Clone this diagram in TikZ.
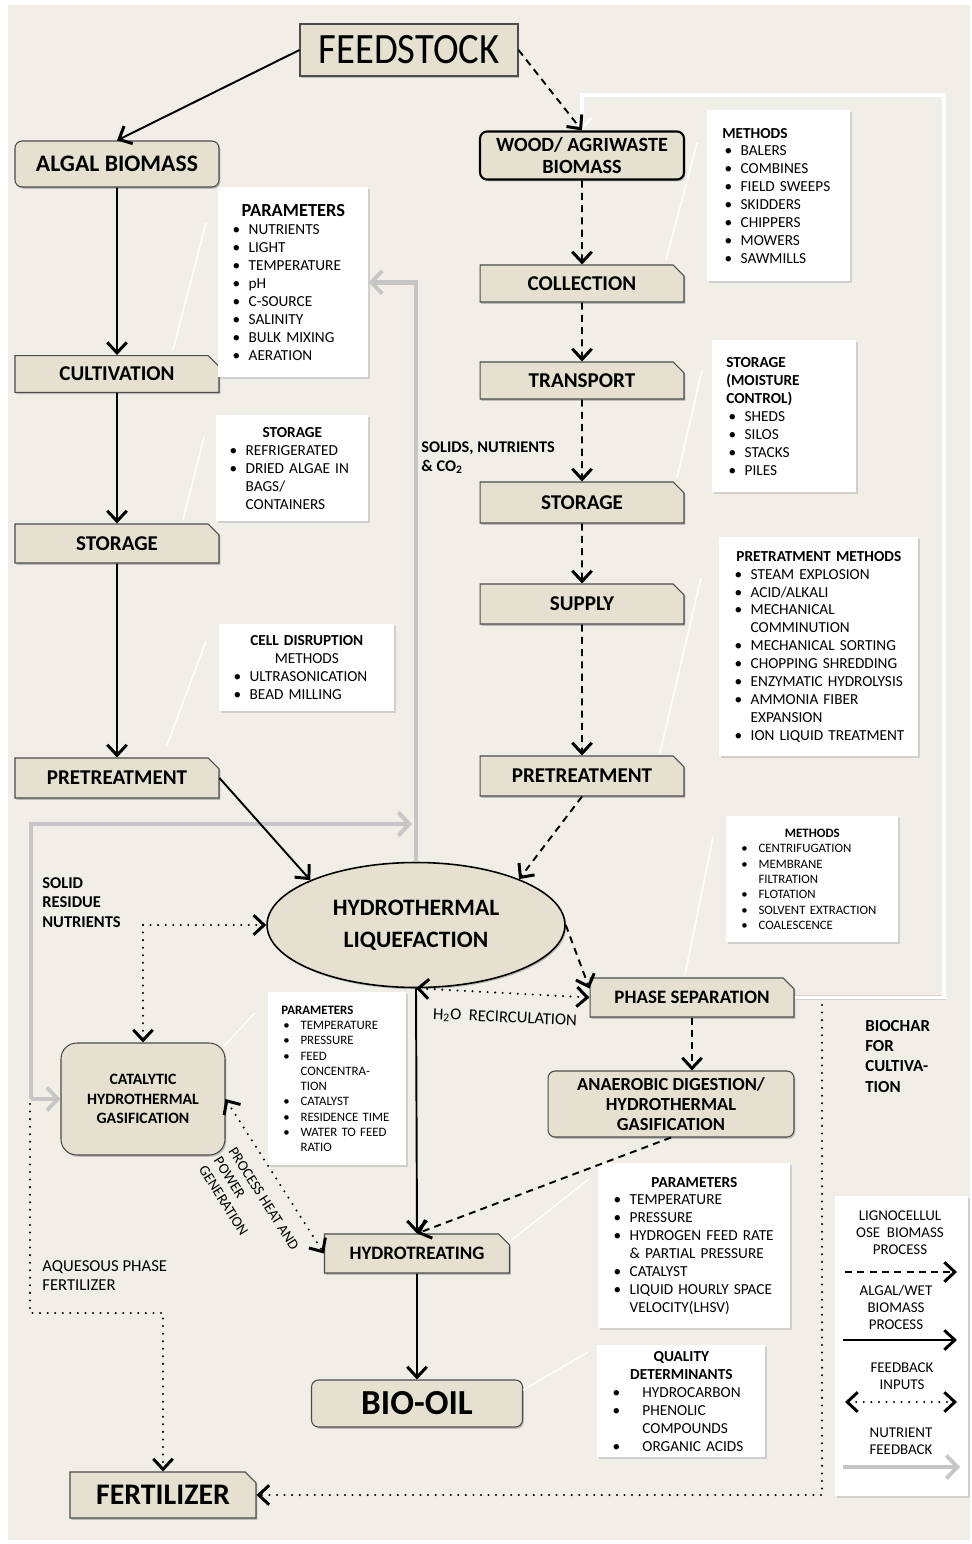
\documentclass[tikz,border=0pt]{standalone}
\usepackage{fontspec}
\setmainfont{Carlito}
\usetikzlibrary{shapes.geometric, shapes.misc, arrows.meta, shadows}

\definecolor{pagebg}{RGB}{240,238,231}
\definecolor{boxfill}{RGB}{229,224,207}
\definecolor{boxline}{RGB}{75,75,75}
\definecolor{nutgray}{RGB}{198,198,198}

\newcommand{\bul}[1][1.2em]{\makebox[#1][l]{\hspace{0.15em}\textbullet}}
\newcommand{\ind}[1][1.2em]{\hspace*{#1}}
\newcommand{\ttl}[1]{{\centering\bfseries #1\par}}

\tikzstyle{stage} = [chamfered rectangle, chamfered rectangle corners=north east, chamfered rectangle xsep=3pt, minimum width=4.08cm, draw=boxline, line width=0.6pt, fill=boxfill, align=center, font=\bfseries\fontsize{12}{14}\selectfont, drop shadow={shadow xshift=0.8pt, shadow yshift=-1pt, fill=black!45, opacity=0.5}]
\tikzstyle{roundstage} = [rectangle, rounded corners=4pt, minimum width=4.08cm, draw=boxline, line width=0.6pt, fill=boxfill, align=center, font=\bfseries\fontsize{12}{14}\selectfont, drop shadow={shadow xshift=0.8pt, shadow yshift=-1pt, fill=black!45, opacity=0.5}]
\tikzstyle{infobox} = [rectangle, fill=white, anchor=north west, align=left, inner ysep=0pt, font=\fontsize{8.7}{10.2}\selectfont, drop shadow={shadow xshift=0.8pt, shadow yshift=-1pt, fill=black!30, opacity=0.5}]
\tikzstyle{smallbox} = [infobox, font=\fontsize{7.3}{8.7}\selectfont]
\tikzstyle{sidetext} = [align=left, inner sep=0pt, font=\bfseries\fontsize{9.4}{11.2}\selectfont]
\tikzstyle{legtext} = [align=center, inner sep=0pt, font=\fontsize{8.5}{9.6}\selectfont]
\tikzstyle{arrow} = [line width=1.1pt, ->, >={Straight Barb[length=2.1mm,width=3.9mm,line width=1.7pt]}]
\tikzstyle{dasharrow} = [arrow, dash pattern=on 4pt off 3pt]
\tikzstyle{dotarrow} = [line width=1.3pt, line cap=round, dash pattern=on 0pt off 4.3pt, >={Straight Barb[length=2.1mm,width=3.9mm,line width=1.7pt]}]
\tikzstyle{nutarrow} = [nutgray, line width=2.8pt, ->, >={Straight Barb[length=2.2mm,width=4.6mm,line width=2.2pt]}]
\tikzstyle{biochar} = [white, line width=1.8pt, ->, >={Straight Barb[length=2.1mm,width=3.9mm,line width=1.7pt]}, preaction={draw=black!18, line width=2.8pt}]
\tikzstyle{callout} = [white, line width=0.8pt]

\begin{document}
\begin{tikzpicture}[x=0.02cm, y=-0.02cm]

    \useasboundingbox (0,0) rectangle (972,1544);
    \fill[pagebg] (8,5) rectangle (970,1540);

    % Nodes for algae
    \node (feed) [rectangle, minimum width=4.36cm, minimum height=1.04cm, draw=boxline, line width=0.6pt, fill=boxfill, font=\fontsize{22}{24}\selectfont, drop shadow={shadow xshift=0.8pt, shadow yshift=-1pt, fill=black!45, opacity=0.5}] at (409,50) {\scalebox{1}[1.12]{FEEDSTOCK}};
    \node (algal) [roundstage, minimum height=0.92cm, font=\bfseries\fontsize{13.5}{15}\selectfont] at (117,164) {ALGAL BIOMASS};
    \node (cult) [stage, minimum height=0.56cm] at (117,374) {CULTIVATION};
    \node (storl) [stage, minimum height=0.78cm] at (117,543.5) {STORAGE};
    \node (pretl) [stage, minimum height=0.8cm] at (117,778) {PRETREATMENT};

    % Nodes for wood
    \node (wood) [roundstage, draw=black, line width=1.2pt, minimum height=0.94cm, font=\bfseries\fontsize{11.5}{12.5}\selectfont] at (582,155.5) {WOOD/ AGRIWASTE\\BIOMASS};
    \node (coll) [stage, minimum height=0.74cm] at (582,283.5) {COLLECTION};
    \node (trans) [stage, minimum height=0.74cm] at (582,380.5) {TRANSPORT};
    \node (storr) [stage, minimum height=0.82cm] at (582,502.5) {STORAGE};
    \node (supply) [stage, minimum height=0.8cm] at (582,604) {SUPPLY};
    \node (pretr) [stage, minimum height=0.8cm] at (582,776) {PRETREATMENT};

    % Conversion nodes
    \node (htl) [ellipse, draw=black, line width=0.9pt, fill=boxfill, minimum width=5.96cm, minimum height=2.5cm, align=center, font=\bfseries\fontsize{13.4}{18}\selectfont, drop shadow={shadow xshift=0.8pt, shadow yshift=-1pt, fill=black!45, opacity=0.5}] at (416,925) {HYDROTHERMAL\\LIQUEFACTION};
    \node (phase) [stage, minimum height=0.78cm, font=\bfseries\fontsize{10.8}{12}\selectfont] at (692,997.5) {PHASE SEPARATION};
    \node (anaer) [roundstage, minimum width=4.92cm, minimum height=1.32cm, font=\bfseries\fontsize{10.5}{11.6}\selectfont] at (671,1104) {ANAEROBIC DIGESTION/\\HYDROTHERMAL\\GASIFICATION};
    \node (chtg) [roundstage, rounded corners=9pt, minimum width=3.28cm, minimum height=2.24cm, font=\bfseries\fontsize{9}{11}\selectfont] at (143,1099) {CATALYTIC\\HYDROTHERMAL\\GASIFICATION};
    \node (ht) [stage, minimum width=3.7cm, minimum height=0.78cm, font=\bfseries\fontsize{10.8}{12}\selectfont] at (417,1253.5) {HYDROTREATING};
    \node (oil) [roundstage, minimum width=4.22cm, minimum height=0.94cm, font=\bfseries\fontsize{20}{22}\selectfont] at (417,1403.5) {BIO-OIL};
    \node (fert) [stage, minimum width=3.72cm, minimum height=0.92cm, font=\bfseries\fontsize{17}{19}\selectfont] at (163,1495) {FERTILIZER};

    % Info boxes
    \node (par1) [infobox, minimum width=3cm, minimum height=3.8cm, inner xsep=0.24cm, text width=2.52cm] at (218,187) {\ttl{\fontsize{10.5}{12}\selectfont PARAMETERS}
        \bul NUTRIENTS\\ \bul LIGHT\\ \bul TEMPERATURE\\ \bul pH\\ \bul C-SOURCE\\ \bul SALINITY\\ \bul BULK MIXING\\ \bul AERATION};
    \node (storinfo) [infobox, minimum width=3.04cm, minimum height=2.12cm, inner xsep=0.22cm, text width=2.6cm] at (216,415) {\ttl{STORAGE}
        \bul REFRIGERATED\\ \bul DRIED ALGAE IN\\ \ind BAGS/\\ \ind CONTAINERS};
    \node (cellinfo) [infobox, minimum width=3.5cm, minimum height=1.74cm, inner xsep=0.24cm, text width=3.02cm] at (219,624) {\ttl{CELL DISRUPTION}{\centering METHODS\par}
        \bul ULTRASONICATION\\ \bul BEAD MILLING};
    \node (methinfo) [infobox, minimum width=2.86cm, minimum height=3.42cm, inner xsep=0.3cm, text width=2.26cm] at (707,110) {\textbf{METHODS}\\
        \bul BALERS\\ \bul COMBINES\\ \bul FIELD SWEEPS\\ \bul SKIDDERS\\ \bul CHIPPERS\\ \bul MOWERS\\ \bul SAWMILLS};
    \node (moistinfo) [infobox, minimum width=2.88cm, minimum height=3.04cm, inner xsep=0.28cm, text width=2.32cm] at (712,340) {\textbf{STORAGE}\\ \textbf{(MOISTURE}\\ \textbf{CONTROL)}\\
        \bul SHEDS\\ \bul SILOS\\ \bul STACKS\\ \bul PILES};
    \node (pretinfo) [infobox, minimum width=3.98cm, minimum height=4.38cm, inner xsep=0.26cm, text width=3.46cm] at (719,537) {\ttl{PRETRATMENT METHODS}
        \bul STEAM EXPLOSION\\ \bul ACID/ALKALI\\ \bul MECHANICAL\\ \ind COMMINUTION\\ \bul MECHANICAL SORTING\\ \bul CHOPPING SHREDDING\\ \bul ENZYMATIC HYDROLYSIS\\ \bul AMMONIA FIBER\\ \ind EXPANSION\\ \bul ION LIQUID TREATMENT};
    \node (sepinfo) [smallbox, minimum width=3.44cm, minimum height=2.52cm, inner xsep=0.26cm, text width=2.92cm] at (726,816) {\ttl{METHODS}
        \bul[1.5em]CENTRIFUGATION\\ \bul[1.5em]MEMBRANE\\ \ind[1.5em]FILTRATION\\ \bul[1.5em]FLOTATION\\ \bul[1.5em]SOLVENT EXTRACTION\\ \bul[1.5em]COALESCENCE};
    \node (gasinfo) [smallbox, minimum width=2.76cm, minimum height=3.46cm, inner xsep=0.26cm, text width=2.24cm] at (268,992) {\textbf{PARAMETERS}\\
        \bul[1.5em]TEMPERATURE\\ \bul[1.5em]PRESSURE\\ \bul[1.5em]FEED\\ \ind[1.5em]CONCENTRA-\\ \ind[1.5em]TION\\ \bul[1.5em]CATALYST\\ \bul[1.5em]RESIDENCE TIME\\ \bul[1.5em]WATER TO FEED\\ \ind[1.5em]RATIO};
    \node (htinfo) [infobox, minimum width=3.84cm, minimum height=3.3cm, inner xsep=0.26cm, text width=3.32cm] at (598,1163) {\ttl{PARAMETERS}
        \bul TEMPERATURE\\ \bul PRESSURE\\ \bul HYDROGEN FEED RATE\\ \ind \& PARTIAL PRESSURE\\ \bul CATALYST\\ \bul LIQUID HOURLY SPACE\\ \ind VELOCITY(LHSV)};
    \node (oilinfo) [infobox, minimum width=3.36cm, minimum height=2.24cm, inner xsep=0.26cm, text width=2.84cm] at (597,1345) {\ttl{QUALITY\\DETERMINANTS}
        \bul[2.1em]HYDROCARBON\\ \bul[2.1em]PHENOLIC\\ \ind[2.1em]COMPOUNDS\\ \bul[2.1em]ORGANIC ACIDS};

    % Callout lines
    \draw[callout] (173,350) -- (206,223);
    \draw[callout] (183,520) -- (204,437);
    \draw[callout] (167,745) -- (206,641);
    \draw[callout] (666,260) -- (697,143);
    \draw[callout] (677,478) -- (702,370);
    \draw[callout] (660,753) -- (701,578);
    \draw[callout] (685,975) -- (713,837);
    \draw[callout] (222,1048) -- (255,1013);
    \draw[callout] (509,1242) -- (589,1179);
    \draw[callout] (523,1390) -- (588,1352);

    % Nutrient feedback
    \coordinate (nutsplit) at (31,1099);
    \coordinate (nutend) at (412,824);
    \draw[nutarrow] (htl.north) |- (par1.east);
    \draw[nutarrow] (nutsplit) |- (nutend);
    \draw[nutarrow] (nutsplit) -- (chtg.west);

    % Biochar return
    \coordinate (bcturn) at (944,95);
    \draw[biochar] (phase.east) -| (bcturn) -| (wood.north);

    % Arrows for algae
    \draw [arrow] (feed.west) -- (algal.north);
    \draw [arrow] (algal) -- (cult);
    \draw [arrow] (cult) -- (storl);
    \draw [arrow] (storl) -- (pretl);
    \draw [arrow] (pretl.east) -- (htl.157);

    % Arrows for wood
    \draw [dasharrow] (feed.east) -- (wood.north);
    \draw [dasharrow] (wood) -- (coll);
    \draw [dasharrow] (coll) -- (trans);
    \draw [dasharrow] (trans) -- (storr);
    \draw [dasharrow] (storr) -- (supply);
    \draw [dasharrow] (supply) -- (pretr);
    \draw [dasharrow] (pretr.south) -- (htl.24);

    % Arrows after liquefaction
    \draw [dasharrow] (htl.east) -- (phase.175);
    \draw [dasharrow] (phase.south) -- (phase.south |- anaer.north);
    \draw [dasharrow] (anaer.south) -- (ht.north);
    \draw [arrow] (htl.south) -- (ht.north);
    \draw [arrow] (ht) -- (oil);

    % Feedback inputs
    \coordinate (srn) at (143,925);
    \coordinate (aqstart) at (30,1104);
    \coordinate (aqturn) at (30,1313);
    \coordinate (bcstart) at (822,1005);
    \draw [dotarrow, ->] (srn) -- (htl.west);
    \draw [dotarrow, ->] (srn) -- (chtg.north);
    \draw [dotarrow, <->] (chtg.east) -- (ht.west);
    \draw [dotarrow, <->] (htl.south) -- (phase.west);
    \draw [dotarrow, ->] (aqstart) -- (aqturn) -| (fert.north);
    \draw [dotarrow, ->] (bcstart) |- (fert.east);

    % Labels
    \node (solidslbl) [sidetext, anchor=north west, font=\bfseries\fontsize{9.3}{10.8}\selectfont] at (421,441) {SOLIDS, NUTRIENTS\\\& CO\textsubscript{2}};
    \node (residuelbl) [sidetext, anchor=north west] at (42,877) {SOLID\\RESIDUE\\NUTRIENTS};
    \node (h2olbl) [sidetext, font=\fontsize{9.5}{11}\selectfont, rotate=-2.5] at (505,1018) {H\textsubscript{2}O\ \ RECIRCULATION};
    \node (biocharlbl) [sidetext, anchor=north west, font=\bfseries\fontsize{9.6}{11.5}\selectfont] at (865,1020) {BIOCHAR\\FOR\\CULTIVA-\\TION};
    \node (aqlbl) [sidetext, anchor=north west, font=\fontsize{9.5}{10.8}\selectfont] at (42,1260) {AQUESOUS PHASE\\FERTILIZER};
    \node (heatlbl) [sidetext, rotate=-57.6, font=\fontsize{8.4}{10}\selectfont] at (249,1208) {PROCESS HEAT AND\\POWER\\GENERATION};

    % Legend
    \node (legend) [infobox, minimum width=2.66cm, minimum height=6cm] at (835,1196) {};
    \node (lgwood) [legtext] at (900,1233) {LIGNOCELLUL\\OSE\ \ BIOMASS\\PROCESS};
    \node (lgalgae) [legtext] at (896,1307) {ALGAL/WET\\BIOMASS\\PROCESS};
    \node (lgfeed) [legtext] at (902,1376) {FEEDBACK\\INPUTS};
    \node (lgnut) [legtext] at (901,1441) {NUTRIENT\\FEEDBACK};
    \draw [dasharrow] (845,1272) -- (957,1272);
    \draw [arrow] (843,1340) -- (957,1340);
    \draw [dotarrow, <->] (845,1402) -- (957,1402);
    \draw [nutarrow] (843,1467) -- (960,1467);

\end{tikzpicture}
\end{document}
